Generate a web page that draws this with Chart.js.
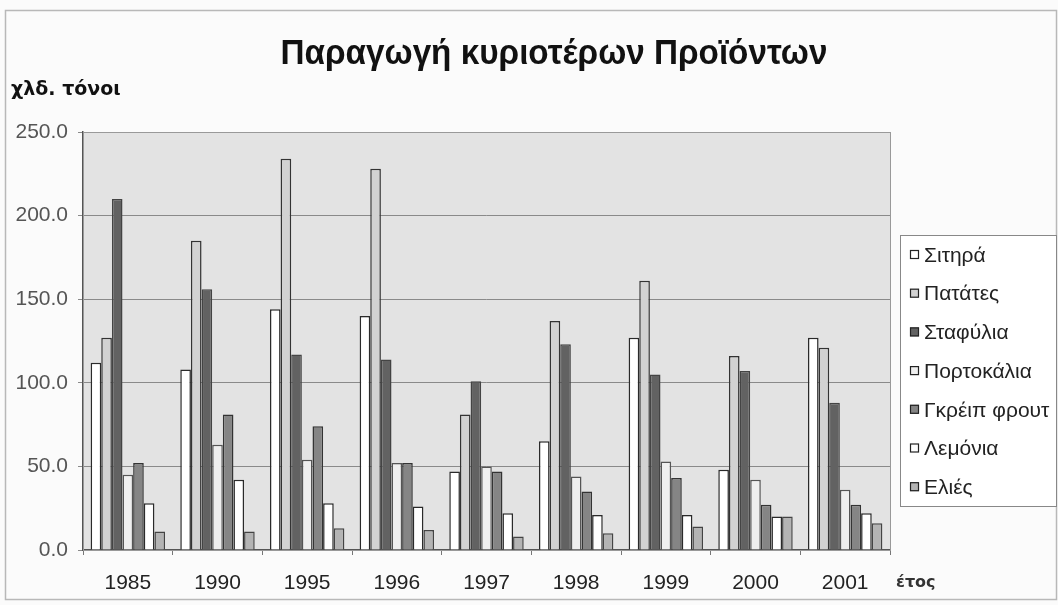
<!DOCTYPE html>
<html>
<head>
<meta charset="utf-8">
<script src="https://cdn.jsdelivr.net/npm/chart.js@4"></script>
<style>
  html, body { margin: 0; padding: 0; background: #fbfbfb; }
  #wrap { width: 1058px; height: 605px; }
</style>
</head>
<body>
<div id="wrap"><canvas id="chart" width="1058" height="605"></canvas></div>
<script>
// Δεδομένα (χιλ. τόνοι)
const years = ['1985', '1990', '1995', '1996', '1997', '1998', '1999', '2000', '2001'];
const sitira     = [112, 108, 144, 140, 47, 65, 127, 48, 127];
const patates    = [127, 185, 234, 228, 81, 137, 161, 116, 121];
const stafylia   = [210, 156, 117, 114, 101, 123, 105, 107, 88];
const portokalia = [45, 63, 54, 52, 50, 44, 53, 42, 36];
const grapefruit = [52, 81, 74, 52, 47, 35, 43, 27, 27];
const lemonia    = [28, 42, 28, 26, 22, 21, 21, 20, 22];
const elies      = [11, 11, 13, 12, 8, 10, 14, 20, 16];
const yTicks = [0, 50, 100, 150, 200, 250];

const seriesNames = ['Σιτηρά', 'Πατάτες', 'Σταφύλια', 'Πορτοκάλια', 'Γκρέιπ φρουτ', 'Λεμόνια', 'Ελιές'];
const seriesData = [sitira, patates, stafylia, portokalia, grapefruit, lemonia, elies];
const fills   = ['#ffffff', '#d2d2d2', '#626262', '#efefef', '#858585', '#ffffff', '#b4b4b4'];
const borders = ['#2a2a2a', '#333333', '#444444', '#555555', '#333333', '#2a2a2a', '#444444'];

const FONT = '"Liberation Sans", Arial, sans-serif';
const WIDE = '"DejaVu Sans", Verdana, sans-serif';

const datasets = seriesNames.map((name, i) => ({
    label: name,
    data: seriesData[i],
    backgroundColor: fills[i],
    borderColor: borders[i],
    borderWidth: 1.5,
    borderSkipped: 'bottom'
}));

// Φόντο, πλαίσια, τίτλοι και υπόμνημα
const decorPlugin = {
    id: 'decor',
    beforeDraw(chart) {
        const ctx = chart.ctx;
        const a = chart.chartArea;
        ctx.save();
        ctx.fillStyle = '#fbfbfb';
        ctx.fillRect(0, 0, chart.width, chart.height);
        ctx.strokeStyle = '#b8b8b8';
        ctx.lineWidth = 1.5;
        ctx.strokeRect(5.5, 10.5, 1051, 589);
        ctx.fillStyle = '#e3e3e3';
        ctx.fillRect(a.left, a.top, a.right - a.left, a.bottom - a.top);
        ctx.restore();
    },
    afterDraw(chart) {
        const ctx = chart.ctx;
        const a = chart.chartArea;
        ctx.save();
        ctx.strokeStyle = '#999';
        ctx.lineWidth = 1;
        ctx.strokeRect(a.left + 0.5, a.top + 0.5, a.right - a.left, a.bottom - a.top);

        // τίτλος: ψηλά, ελαφρώς στενά γράμματα
        ctx.fillStyle = '#111';
        ctx.textBaseline = 'alphabetic';
        ctx.textAlign = 'center';
        ctx.save();
        ctx.translate(554, 64);
        ctx.scale(0.95, 1);
        ctx.font = 'bold 35px ' + FONT;
        ctx.fillText('Παραγωγή κυριοτέρων Προϊόντων', 0, 0);
        ctx.restore();

        ctx.textAlign = 'left';
        ctx.font = 'bold 19px ' + WIDE;
        ctx.fillText('χλδ. τόνοι', 11, 95);

        ctx.fillStyle = '#333';
        ctx.font = 'bold 16px ' + WIDE;
        ctx.fillText('έτος', 896, 587);

        // υπόμνημα
        const lx = 900, ly = 235, lw = 157, lh = 272;
        ctx.fillStyle = '#ffffff';
        ctx.fillRect(lx, ly, lw, lh);
        ctx.strokeStyle = '#888';
        ctx.lineWidth = 1;
        ctx.strokeRect(lx + 0.5, ly + 0.5, lw - 1, lh - 1);
        ctx.font = '21px ' + FONT;
        ctx.textBaseline = 'middle';
        chart.data.datasets.forEach((ds, i) => {
            const cy = 255 + i * 38.7;
            ctx.fillStyle = ds.backgroundColor;
            ctx.fillRect(910, cy - 5, 9, 9);
            ctx.strokeStyle = '#222';
            ctx.lineWidth = 1.2;
            ctx.strokeRect(910.5, cy - 4.5, 8, 8);
            ctx.fillStyle = '#222';
            ctx.fillText(ds.label, 924, cy + 1);
        });
        ctx.restore();
    }
};

new Chart(document.getElementById('chart'), {
    type: 'bar',
    data: { labels: years, datasets: datasets },
    options: {
        responsive: false,
        animation: false,
        layout: { padding: { left: 0, right: 168, top: 132, bottom: 0 } },
        plugins: {
            legend: { display: false },
            title: { display: false },
            tooltip: { enabled: false }
        },
        datasets: { bar: { categoryPercentage: 0.83, barPercentage: 1.0 } },
        scales: {
            x: {
                afterFit(scale) { scale.height = 55; },
                grid: { offset: true, drawOnChartArea: false, tickLength: 5, color: '#777' },
                border: { color: '#555', width: 1.5 },
                ticks: { padding: 16, color: '#222', font: { family: FONT, size: 21 } }
            },
            y: {
                min: 0,
                max: 250,
                afterFit(scale) { scale.width = 83; },
                afterBuildTicks(scale) { scale.ticks = yTicks.map(v => ({ value: v })); },
                grid: { color: '#8a8a8a', lineWidth: 1, tickLength: 5 },
                border: { color: '#555', width: 1.5 },
                ticks: {
                    padding: 10,
                    color: '#555',
                    font: { family: FONT, size: 21 },
                    callback: v => v.toFixed(1)
                }
            }
        }
    },
    plugins: [decorPlugin]
});
</script>
</body>
</html>
